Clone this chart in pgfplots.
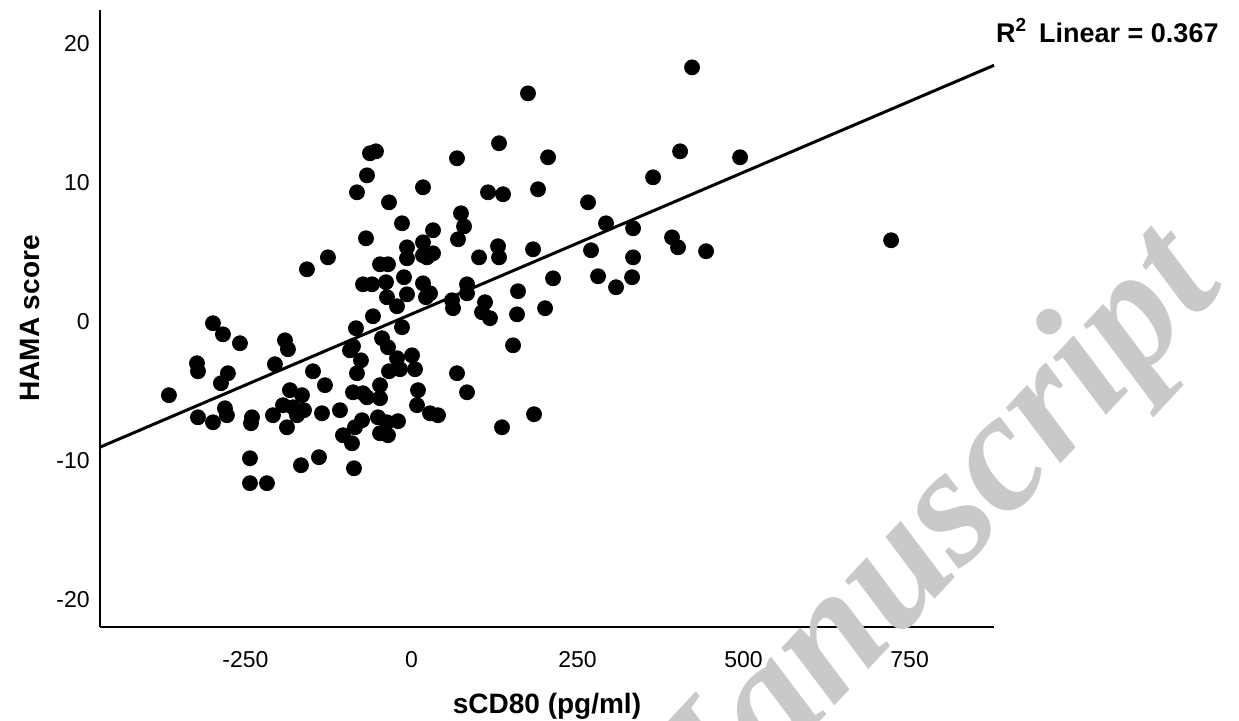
\documentclass[border=0pt]{standalone}
\usepackage{pgfplots}
\usepackage{pgfplotstable}
\usepackage{fontspec}
\setmainfont{Liberation Sans}
\newfontfamily\wmfont{Liberation Serif}
\pgfplotsset{compat=1.18}

% sCD80 (pg/ml) vs HAMA score
\pgfplotstableread{
x y
-365.2 -5.32
-323.0 -3.02
-321.5 -3.60
-298.9 -0.14
-283.9 -0.94
-258.3 -1.58
-276.4 -3.74
-286.9 -4.46
-321.5 -6.91
-298.9 -7.27
-280.9 -6.26
-277.9 -6.76
-240.2 -6.91
-241.7 -7.34
-205.6 -3.09
-190.5 -1.37
-186.0 -2.01
-208.6 -6.76
-183.0 -4.96
-164.9 -5.32
-193.5 -6.04
-178.5 -6.19
-161.9 -6.40
-172.4 -6.76
-187.5 -7.63
-243.2 -9.86
-166.4 -10.36
-243.2 -11.65
-217.6 -11.65
-148.3 -3.60
-130.3 -4.60
-134.8 -6.62
-107.7 -6.40
-139.3 -9.78
-86.6 -10.58
-157.4 3.74
-125.8 4.60
-62.5 12.09
-53.5 12.23
-67.0 10.50
-82.1 9.28
-33.9 8.56
17.3 9.64
-14.3 7.05
-68.5 5.97
-6.8 5.32
17.3 5.68
-47.4 4.10
-35.4 4.10
-6.8 4.53
17.3 4.75
-73.0 2.66
-59.5 2.66
-38.4 2.81
-11.3 3.17
17.3 2.73
-36.9 1.73
-21.8 1.08
-6.8 1.94
21.8 1.73
-58.0 0.36
-83.6 -0.50
-14.3 -0.43
-44.4 -1.22
-92.6 -2.09
-88.1 -1.80
-35.4 -1.87
-76.1 -2.81
-21.8 -2.66
0.8 -2.45
-33.9 -3.60
-17.3 -3.45
5.3 -3.45
-82.1 -3.74
-88.1 -5.11
-73.0 -5.18
-67.0 -5.47
-47.4 -4.60
-47.4 -5.54
9.8 -4.96
8.3 -6.04
-74.5 -7.12
-85.1 -7.63
-50.5 -6.91
-36.9 -7.27
-20.3 -7.19
-47.4 -8.06
-35.4 -8.20
-103.2 -8.20
-89.6 -8.78
27.9 -6.62
175.4 16.40
131.8 12.81
68.5 11.73
205.6 11.80
115.2 9.28
137.8 9.14
190.5 9.50
74.5 7.77
79.1 6.83
70.0 5.90
32.4 6.55
32.4 4.89
23.3 4.60
130.3 5.40
131.8 4.60
101.7 4.60
183.0 5.18
213.1 3.09
160.4 2.16
83.6 2.66
83.6 2.01
61.0 1.51
27.9 2.01
110.7 1.37
106.2 0.65
118.2 0.22
62.5 0.94
158.9 0.50
201.1 0.94
152.9 -1.73
68.5 -3.74
83.6 -5.11
39.9 -6.76
136.3 -7.63
184.5 -6.69
422.4 18.27
404.4 12.23
494.7 11.80
363.7 10.36
265.8 8.56
292.9 7.05
333.6 6.69
392.3 6.04
401.3 5.32
443.5 5.04
270.3 5.11
333.6 4.60
280.9 3.24
308.0 2.45
332.1 3.17
722.1 5.83
}\hama

\begin{document}
\begin{tikzpicture}
\begin{axis}[
    name=ax,
    scale only axis,
    width=447pt, height=308.5pt,
    xmin=-469, xmax=877,
    ymin=-22.0, ymax=22.4,
    axis x line=bottom, axis y line=left,
    axis line style={-, line width=1pt, black},
    xtick={-250,0,250,500,750},
    ytick={-20,-10,0,10,20},
    major tick length=0pt,
    tick label style={font=\fontsize{11.5}{13}\selectfont, inner sep=0pt},
    /pgf/number format/assume math mode=true,
    xticklabel style={anchor=base, yshift=-20.5pt},
    yticklabel style={anchor=east, xshift=-5pt},
    xlabel={sCD80 (pg/ml)},
    ylabel={HAMA score},
    label style={font=\bfseries\fontsize{14}{16}\selectfont, inner sep=0pt},
    xlabel style={at={(axis description cs:0.5,-0.141)}, anchor=base},
    ylabel style={at={(axis description cs:-0.068,0.5)}, anchor=base},
    clip=false,
]
\addplot[only marks, mark=*, mark size=3.75pt, black] table[x=x, y=y] {\hama};
\addplot[black, line width=1.5pt] coordinates {(-469,-9.06) (877,18.42)};
\node[anchor=base west, inner sep=0pt, font=\bfseries\fontsize{13.5}{16}\selectfont]
    at (axis description cs:1.002,0.948) {R\textsuperscript{2}\, Linear = 0.367};
\end{axis}
\node[rotate=47, anchor=base east, inner sep=0pt, text=black!21,
      font=\wmfont\bfseries\itshape\fontsize{85}{87}\selectfont]
    at ([shift={(563pt,170pt)}]ax.south west) {Manuscript};
\pgfresetboundingbox
\path[use as bounding box] ([shift={(-50pt,-47pt)}]ax.south west) rectangle ([shift={(569.5pt,313.5pt)}]ax.south west);
\end{tikzpicture}
\end{document}
